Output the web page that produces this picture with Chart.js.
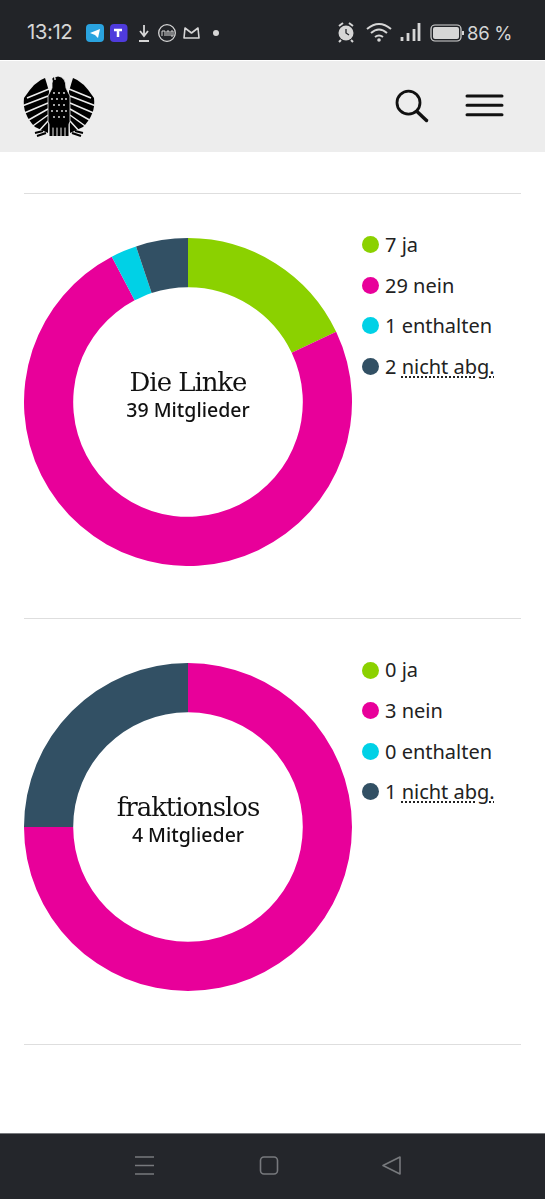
<!DOCTYPE html>
<html lang="de">
<head>
<meta charset="utf-8">
<title>Abstimmung</title>
<script src="https://cdn.jsdelivr.net/npm/chart.js@4"></script>
<style>
html, body { margin: 0; padding: 0; background: #fff; }
body { width: 545px; height: 1199px; position: relative; overflow: hidden; font-family: "Noto Sans", sans-serif; color: #111; }
.abs { position: absolute; }
#status { left: 0; top: 0; width: 545px; height: 60px; background: #222428; }
#header { left: 0; top: 61px; width: 545px; height: 91px; background: #ededed; }
#nav { left: 0; top: 1133px; width: 545px; height: 66px; background: #24262b; border-top: 1px solid #77797d; box-sizing: border-box; }
.time { left: 27px; top: 20px; font: 400 20.5px/24px Inter, sans-serif; color: #d6d6d6; letter-spacing: -0.5px; }
.pct { left: 467px; top: 21px; font: 400 18.5px/24px Inter, sans-serif; color: #d6d6d6; letter-spacing: -0.3px; }
.divider { left: 24px; width: 497px; height: 1px; background: #dedede; }
canvas { position: absolute; left: 24px; width: 328px; height: 328px; }
.group { position: absolute; left: 38px; width: 300px; text-align: center; white-space: nowrap; }
.group .name { font: 400 26px/30px "DejaVu Serif", serif; letter-spacing: -1.05px; color: #111; }
.group .count { font: 500 19.5px/24px "Noto Sans", sans-serif; color: #111; margin-top: 1px; }
.row { position: absolute; left: 362px; height: 24px; line-height: 24px; font-size: 20px; white-space: nowrap; color: #222; }
.row i { position: absolute; left: 0; top: 3px; width: 17px; height: 17px; border-radius: 50%; }
.row span { position: absolute; left: 23px; top: -0.5px; }
.row u { text-decoration: underline dotted 1.5px; text-underline-offset: 3px; }
svg { position: absolute; overflow: visible; }
</style>
</head>
<body>
<div class="abs" id="status"></div>
<div class="abs time">13:12</div>
<div class="abs pct">86 %</div>
<svg class="abs" style="left:0;top:0" width="545" height="60" fill="none" stroke="#d6d6d6">
  <rect x="86" y="24" width="18" height="18" rx="4" fill="#2aa3df" stroke="none"/>
  <path d="M90 33 L100 29 L98 38 L95 35 Z" fill="#fff" stroke="none"/>
  <rect x="110" y="24" width="17.500" height="18" rx="4" fill="#4f3bdc" stroke="none"/>
  <path d="M114 30 H122 M118 30 V37" stroke="#fff" stroke-width="2.500"/>
  <path d="M144 25 V35 M140 31 L144 36 L148 31 M139 41 H149" stroke-width="1.800"/>
  <circle cx="167" cy="33" r="8.300" stroke-width="1.300"/>
  <path d="M162 36 V31 H165 V36 M167 36 V31 H169 V36 M171 31 V36 H173 V31 Z" stroke-width="1"/>
  <path d="M184 38 L185 28 L191.500 33 L198 28 L199 38 Z" stroke-width="1.600" stroke-linejoin="round"/>
  <circle cx="216" cy="33" r="3" fill="#d6d6d6" stroke="none"/>
  <circle cx="346" cy="33" r="7.500" fill="#d6d6d6" stroke="none"/>
  <path d="M346 29 V33 L349 35" stroke="#222428" stroke-width="1.300"/>
  <path d="M339 26 L343 23 M353 26 L349 23 M341 40 L339 42 M351 40 L353 42" stroke-width="2"/>
  <path d="M367 29 Q379 19 391 29 M371 33 Q379 26 387 33 M375 37 Q379 34 383 37" stroke-width="2"/>
  <circle cx="379" cy="40" r="1.800" fill="#d6d6d6" stroke="none"/>
  <path d="M402 41 V37 M408 41 V33 M414 41 V29 M419 41 V23" stroke-width="2.800"/>
  <rect x="431" y="25" width="30" height="16" rx="4" stroke-width="1.200"/>
  <rect x="433" y="27" width="26" height="12" rx="2" fill="#d6d6d6" stroke="none"/>
  <path d="M463 31 V35" stroke-width="2"/>
</svg>

<div class="abs" id="header"></div>
<svg class="abs" style="left:24px;top:76px" width="70" height="62">
  <defs>
    <g id="wing">
      <path d="M21 2 Q11 5 0 22 Q-2 38 11 51 L24 57 L25 15 Z" fill="#000"/>
      <path d="M25 13 L3 22 M24 20 L-2 30 M24 27 L-2 38 M24 33 L1 46 M24 39 L6 52 M24 45 L14 56" stroke="#ededed" stroke-width="1.500" fill="none"/>
      <path d="M22 57 L13 60 M19 55 L11 57" stroke="#000" stroke-width="2" fill="none"/>
    </g>
  </defs>
  <use href="#wing"/>
  <use href="#wing" transform="translate(70,0) scale(-1,1)"/>
  <path d="M28 12 Q27 1 34 0 Q42 1 42 12 L46 20 L46 46 L42 52 H28 L24 46 L24 20 Z" fill="#000" stroke="#ededed" stroke-width="0.800"/>
  <path d="M28 3 L30 1 L30 5 Z" fill="#000"/>
  <path d="M27 47 V60 M31 47 V60 M35 47 V60 M39 47 V60 M43 47 V60" stroke="#000" stroke-width="3" fill="none"/>
  <g fill="#ededed">
    <circle cx="31" cy="3" r="0.900"/>
    <circle cx="30" cy="17" r="0.900"/><circle cx="35" cy="17" r="0.900"/><circle cx="40" cy="17" r="0.900"/>
    <circle cx="28" cy="23" r="0.900"/><circle cx="33" cy="23" r="0.900"/><circle cx="38" cy="23" r="0.900"/><circle cx="42" cy="23" r="0.900"/>
    <circle cx="30" cy="29" r="0.900"/><circle cx="35" cy="29" r="0.900"/><circle cx="40" cy="29" r="0.900"/>
    <circle cx="28" cy="35" r="0.900"/><circle cx="33" cy="35" r="0.900"/><circle cx="38" cy="35" r="0.900"/><circle cx="42" cy="35" r="0.900"/>
    <circle cx="30" cy="41" r="0.900"/><circle cx="35" cy="41" r="0.900"/><circle cx="40" cy="41" r="0.900"/>
  </g>
</svg>
<svg class="abs" style="left:0;top:61px" width="545" height="91" fill="none" stroke="#111">
  <circle cx="408.500" cy="41.700" r="11.500" stroke-width="2.800"/>
  <path d="M417 50.500 L426.500 59.500" stroke-width="3.500" stroke-linecap="round"/>
  <path d="M467 35 H502 M467 44.300 H502 M467 53.700 H502" stroke-width="3" stroke-linecap="round"/>
</svg>

<div class="abs divider" style="top:193px"></div>
<canvas id="chartLinke" width="328" height="328" style="top:238px"></canvas>
<div class="group" style="top:367px">
  <div class="name" id="nameLinke"></div>
  <div class="count" id="countLinke"></div>
</div>
<div id="legendLinke"></div>

<div class="abs divider" style="top:618px"></div>
<canvas id="chartLos" width="328" height="328" style="top:663px"></canvas>
<div class="group" style="top:792px">
  <div class="name" id="nameLos"></div>
  <div class="count" id="countLos"></div>
</div>
<div id="legendLos"></div>

<div class="abs divider" style="top:1044px"></div>

<div class="abs" id="nav"></div>
<svg class="abs" style="left:0;top:1133px" width="545" height="66" fill="none" stroke="#77797d" stroke-width="1.600">
  <path d="M135 24 H154 M135 32.500 H154 M135 41 H154"/>
  <rect x="260.500" y="24" width="17" height="17" rx="3.500"/>
  <path d="M383 32.500 L400 24 V41 Z" stroke-linejoin="round"/>
</svg>

<script>
const categories = ['ja', 'nein', 'enthalten', 'nicht abg.'];
const colours = ['#8bd100', '#e8009a', '#00d1e6', '#325064'];

const linkeName = 'Die Linke';
const linkeMembers = 39;
const linkeValues = [7, 29, 1, 2];

const losName = 'fraktionslos';
const losMembers = 4;
const losValues = [0, 3, 0, 1];

const legendRows = [244, 285, 325, 366];
const legendRows2 = [669.5, 710, 751, 791];

function donut(id, values) {
    const ctx = document.getElementById(id).getContext('2d');
    return new Chart(ctx, {
        type: 'doughnut',
        data: {
            labels: categories,
            datasets: [{
                data: values,
                backgroundColor: colours,
                borderWidth: 0
            }]
        },
        options: {
            responsive: false,
            animation: false,
            cutout: '70%',
            layout: { padding: 0 },
            plugins: {
                legend: { display: false },
                tooltip: { enabled: false }
            }
        }
    });
}

function legend(id, values, rows) {
    const box = document.getElementById(id);
    categories.forEach(function (cat, i) {
        const row = document.createElement('div');
        row.className = 'row';
        row.style.top = (rows[i] - 11) + 'px';
        const label = cat === 'nicht abg.' ? '<u>' + cat + '</u>' : cat;
        row.innerHTML = '<i style="background:' + colours[i] + '"></i><span>' + values[i] + ' ' + label + '</span>';
        box.appendChild(row);
    });
}

donut('chartLinke', linkeValues);
donut('chartLos', losValues);
legend('legendLinke', linkeValues, legendRows);
legend('legendLos', losValues, legendRows2);

document.getElementById('nameLinke').textContent = linkeName;
document.getElementById('countLinke').textContent = linkeMembers + ' Mitglieder';
document.getElementById('nameLos').textContent = losName;
document.getElementById('countLos').textContent = losMembers + ' Mitglieder';
</script>
</body>
</html>
